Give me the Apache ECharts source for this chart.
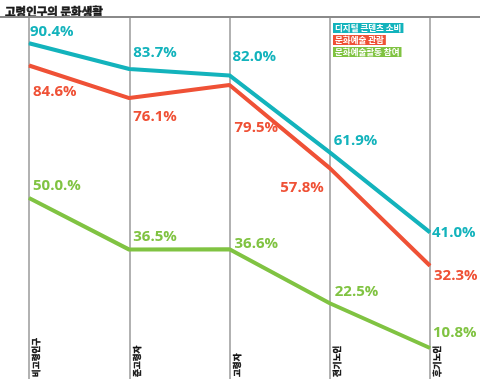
<!DOCTYPE html>
<html><head><meta charset="utf-8">
<script src="https://cdn.jsdelivr.net/npm/echarts@6/dist/echarts.min.js"></script>
<style>html,body{margin:0;padding:0;background:#fff}#c{width:480px;height:379px}</style>
</head><body><div id="c"></div>
<script>
const title = '고령인구의 문화생활';
const categories = ['비고령인구', '준고령자', '고령자', '전기노인', '후기노인'];
const seriesNames = ['디지털 콘텐츠 소비', '문화예술 관람', '문화예술활동 참여'];
const digital = [90.4, 83.7, 82.0, 61.9, 41.0];
const viewing = [84.6, 76.1, 79.5, 57.8, 32.3];
const activity = [50.0, 36.5, 36.6, 22.5, 10.8];
const activityLabels = ['50.0.%', '36.5%', '36.6%', '22.5%', '10.8%'];

const colors = ['#13b3bc', '#ef5136', '#80c342'];
// label placement (style only)
const labelOffsets = [
  [[1,-12],[4,-16.5],[3,-18.5],[4,-12],[2,0]],
  [[4,26],[4,19],[5,43],[-6,20],[4,10]],
  [[4,-12],[4,-13],[5,-6],[5,-11],[3,-15]]
];
const labelAlign = [
  ['left','left','left','left','left'],
  ['left','left','left','right','left'],
  ['left','left','left','left','left']
];
const allData = [digital, viewing, activity];

function mkSeries(i) {
  return {
    name: seriesNames[i],
    type: 'line',
    symbol: 'circle',
    symbolSize: 1,
    z: 3 - i + 2,
    lineStyle: { color: colors[i], width: 4 },
    itemStyle: { color: colors[i] },
    data: allData[i].map((v, j) => ({
      value: v,
      label: {
        show: true,
        position: 'inside',
        align: labelAlign[i][j],
        verticalAlign: 'middle',
        offset: labelOffsets[i][j],
        color: colors[i],
        fontFamily: 'Open Sans',
        fontWeight: 700,
        fontSize: 15,
        formatter: i === 2 ? activityLabels[j] : v.toFixed(1) + '%'
      }
    }))
  };
}

const chart = echarts.init(document.getElementById('c'));
chart.setOption({
  animation: false,
  backgroundColor: '#fff',
  title: {
    text: title, left: 0, top: 1,
    textStyle: { fontFamily: 'Noto Sans CJK KR', fontWeight: 'bold', fontSize: 11.5, color: '#1a1a1a',
      textBorderColor: '#1a1a1a', textBorderWidth: 0.6 }
  },
  graphic: [{
    type: 'line', shape: { x1: 0, y1: 17, x2: 480, y2: 17 },
    style: { stroke: '#8a8a8a', lineWidth: 2 }, z: 10
  }],
  legend: {
    orient: 'vertical', left: 323, top: 18, itemGap: 2,
    icon: 'none', itemWidth: 0, itemHeight: 8,
    selectedMode: false,
    data: seriesNames.map((n, i) => ({
      name: n,
      textStyle: {
        color: '#fff', backgroundColor: colors[i], fontFamily: 'Noto Sans CJK KR',
        fontWeight: 'bold', fontSize: 8.5, padding: [1, 2, 0, 2], lineHeight: 9
      }
    }))
  },
  grid: { left: 29, right: 50, top: 17, bottom: 0, outerBoundsMode: 'none', containLabel: false },
  xAxis: {
    type: 'category', boundaryGap: false, data: categories,
    axisLine: { show: false }, axisTick: { show: false },
    splitLine: { show: true, lineStyle: { color: '#999', width: 1.5 } },
    axisLabel: {
      inside: true, rotate: 90, margin: 2, color: '#111',
      fontFamily: 'Noto Sans CJK KR', fontWeight: 'bold', fontSize: 8.5,
      verticalAlign: 'top', padding: [3, 0, 0, 0],
      textBorderColor: '#111', textBorderWidth: 0.4
    }
  },
  yAxis: {
    type: 'value', min: 2.7, max: 97.27, show: false,
    splitLine: { show: false }
  },
  series: [mkSeries(0), mkSeries(1), mkSeries(2)]
});
</script></body></html>
